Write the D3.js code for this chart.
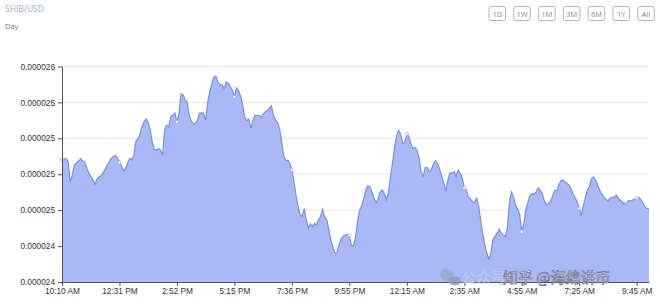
<!DOCTYPE html>
<html>
<head>
<meta charset="utf-8">
<script src="https://cdn.jsdelivr.net/npm/d3@7"></script>
<style>
  html, body { margin: 0; padding: 0; background: #fff; }
  svg { display: block; font-family: "Open Sans", "Noto Sans", sans-serif; }
  .axis path, .axis line { stroke: #555; }
  .axis text { fill: #333; font-size: 8.3px; }
</style>
</head>
<body>
<svg id="chart" width="660" height="308"></svg>
<script>
// SHIB/USD, one day, price in micro-USD (x 1e-6), one point per step
const priceMicro = [
  24.849, 24.858, 24.858, 24.837, 24.698, 24.740, 24.816, 24.828, 24.840, 24.858,
  24.844, 24.837, 24.795, 24.760, 24.736, 24.715, 24.681, 24.715, 24.731, 24.740,
  24.760, 24.785, 24.814, 24.837, 24.860, 24.874, 24.880, 24.861, 24.831, 24.806,
  24.774, 24.792, 24.830, 24.861, 24.851, 24.882, 24.979, 24.997, 25.031, 25.082,
  25.116, 25.135, 25.110, 25.059, 24.969, 24.924, 24.919, 24.928, 24.919, 24.882,
  25.059, 25.092, 25.080, 25.149, 25.162, 25.177, 25.115, 25.174, 25.309, 25.302,
  25.267, 25.253, 25.163, 25.119, 25.101, 25.104, 25.128, 25.174, 25.178, 25.174,
  25.125, 25.253, 25.326, 25.378, 25.427, 25.431, 25.389, 25.372, 25.373, 25.344,
  25.392, 25.382, 25.358, 25.335, 25.288, 25.351, 25.333, 25.295, 25.233, 25.146,
  25.125, 25.135, 25.069, 25.125, 25.160, 25.159, 25.160, 25.147, 25.169, 25.184,
  25.193, 25.208, 25.226, 25.163, 25.128, 25.111, 25.066, 24.983, 24.878, 24.844,
  24.849, 24.824, 24.781, 24.698, 24.604, 24.526, 24.469, 24.456, 24.510, 24.434,
  24.376, 24.406, 24.385, 24.408, 24.397, 24.433, 24.456, 24.507, 24.453, 24.434,
  24.365, 24.292, 24.240, 24.201, 24.205, 24.260, 24.299, 24.319, 24.328, 24.331,
  24.326, 24.253, 24.253, 24.309, 24.420, 24.500, 24.529, 24.580, 24.637, 24.670,
  24.665, 24.625, 24.587, 24.551, 24.578, 24.626, 24.640, 24.617, 24.571, 24.623,
  24.726, 24.825, 24.937, 25.017, 25.056, 25.029, 24.962, 24.972, 25.031, 25.012,
  24.960, 24.931, 24.937, 24.915, 24.861, 24.760, 24.736, 24.797, 24.797, 24.767,
  24.781, 24.823, 24.844, 24.826, 24.783, 24.735, 24.689, 24.631, 24.705, 24.760,
  24.758, 24.766, 24.737, 24.781, 24.758, 24.723, 24.655, 24.640, 24.594, 24.581,
  24.558, 24.551, 24.583, 24.531, 24.428, 24.337, 24.260, 24.198, 24.160, 24.205,
  24.297, 24.319, 24.340, 24.368, 24.342, 24.328, 24.316, 24.374, 24.559, 24.627,
  24.592, 24.535, 24.510, 24.471, 24.351, 24.406, 24.503, 24.554, 24.604, 24.616,
  24.611, 24.628, 24.656, 24.640, 24.615, 24.566, 24.537, 24.549, 24.561, 24.594,
  24.637, 24.637, 24.672, 24.703, 24.712, 24.697, 24.688, 24.673, 24.649, 24.613,
  24.588, 24.559, 24.512, 24.466, 24.529, 24.591, 24.639, 24.663, 24.721, 24.731,
  24.708, 24.674, 24.638, 24.613, 24.592, 24.577, 24.564, 24.583, 24.591, 24.587,
  24.605, 24.586, 24.569, 24.557, 24.543, 24.549, 24.567, 24.565, 24.571, 24.576,
  24.584, 24.587, 24.575, 24.552, 24.524, 24.512, 24.512
]

const xTickLabels = ['10:10 AM', '12:31 PM', '2:52 PM', '5:15 PM', '7:36 PM', '9:55 PM',
  '12:15 AM', '2:35 AM', '4:55 AM', '7:25 AM', '9:45 AM']
const xTickStep = 28 // one label every 28 points

const yTicks = [24, 24.25, 24.5, 24.75, 25, 25.25, 25.5]
const yTickLabels = ['0.000024', '0.000024', '0.000025', '0.000025', '0.000025', '0.000025', '0.000026']

const ranges = ['1D', '1W', '1M', '3M', '6M', '1Y', 'All']

const svg = d3.select('#chart')
const margin = { top: 66.5, right: 11, bottom: 26, left: 62 }
const width = 660
const height = 308

const x = d3.scaleLinear()
  .domain([0, priceMicro.length - 1])
  .range([margin.left, width - margin.right])
const y = d3.scaleLinear()
  .domain([24, 25.5])
  .range([height - margin.bottom, margin.top])

// header
svg.append('text').attr('x', 5).attr('y', 12)
  .style('font-size', '8.5px').style('fill', '#9db0cc').text('SHIB/USD')
svg.append('text').attr('x', 5).attr('y', 29)
  .style('font-size', '7.5px').style('fill', '#777').text('Day')

const btn = svg.append('g').selectAll('g')
  .data(ranges)
  .join('g')
  .attr('transform', (d, i) => `translate(${489 + i * 24.8},6.5)`)
btn.append('rect')
  .attr('width', 16.5).attr('height', 14).attr('rx', 2)
  .style('fill', '#fff').style('stroke', '#aaa').style('stroke-width', 0.9)
btn.append('text')
  .attr('x', 8.25).attr('y', 10)
  .attr('text-anchor', 'middle')
  .style('font-size', '7.5px').style('fill', '#888')
  .text((d) => d)

// grid
svg.append('g')
  .selectAll('line')
  .data(yTicks.slice(1))
  .join('line')
  .attr('x1', margin.left).attr('x2', width - margin.right)
  .attr('y1', (d) => y(d)).attr('y2', (d) => y(d))
  .style('stroke', '#e8e8e8').style('stroke-width', 1)

// area + line
const area = d3.area()
  .x((d, i) => x(i))
  .y0(y(24))
  .y1((d) => y(d))
const line = d3.line()
  .x((d, i) => x(i))
  .y((d) => y(d))

svg.append('path')
  .datum(priceMicro)
  .attr('d', area)
  .style('fill', '#a9b9f6')
svg.append('path')
  .datum(priceMicro)
  .attr('d', line)
  .style('fill', 'none')
  .style('stroke', '#7d90d8')
  .style('stroke-width', 1.2)

const tickIdx = xTickLabels.map((d, i) => i * xTickStep)

svg.append('g')
  .selectAll('circle')
  .data(tickIdx)
  .join('circle')
  .attr('cx', (d) => x(d))
  .attr('cy', (d) => y(priceMicro[d]))
  .attr('r', 1.6)
  .style('fill', '#fff')
  .style('stroke', '#8a9cdc')
  .style('stroke-width', 0.6)

// axes
svg.append('g')
  .attr('class', 'axis')
  .attr('transform', `translate(${margin.left},0)`)
  .call(d3.axisLeft(y).tickValues(yTicks)
    .tickFormat((d, i) => yTickLabels[i]).tickSize(4).tickSizeOuter(0))

svg.append('g')
  .attr('class', 'axis')
  .attr('transform', `translate(0,${height - margin.bottom})`)
  .call(d3.axisBottom(x).tickValues(tickIdx)
    .tickFormat((d, i) => xTickLabels[i]).tickSize(4).tickSizeOuter(0).tickPadding(2))

// watermark
const wm = svg.append('g').style('font-family', '"Noto Sans CJK SC", sans-serif')
wm.append('ellipse').attr('cx', 447).attr('cy', 275).attr('rx', 7).attr('ry', 6)
  .style('fill', '#9aa6c8').style('opacity', 0.8)
wm.append('ellipse').attr('cx', 455).attr('cy', 281).attr('rx', 6).attr('ry', 4.5)
  .style('fill', '#8e98b8').style('opacity', 0.8)
wm.append('text').attr('x', 461).attr('y', 283)
  .style('font-size', '15px').style('fill', '#c8cede').style('opacity', 0.8)
  .text('公众号')
wm.append('text').attr('x', 503).attr('y', 283)
  .style('font-size', '15px').style('fill', '#fff')
  .style('stroke', '#6b6f80').style('stroke-width', 0.7)
  .text('知乎 @海绵讲币')
</script>
</body>
</html>
